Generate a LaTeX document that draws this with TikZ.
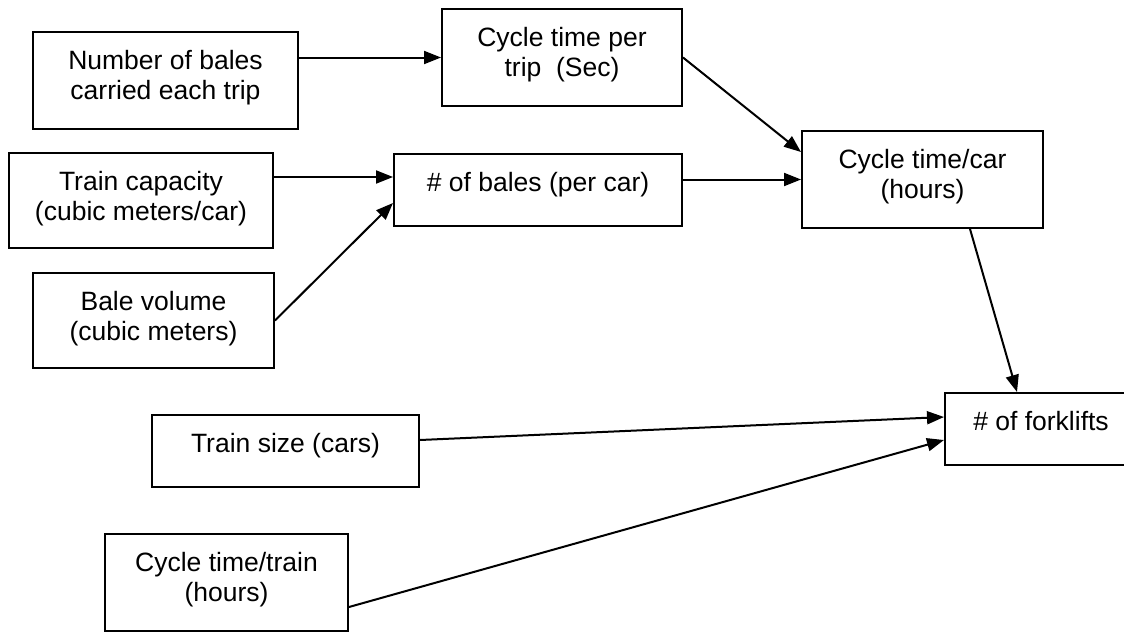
\documentclass[tikz,border=0pt]{standalone}
\usepackage{fontspec}
\setmainfont{Liberation Sans}
\usetikzlibrary{arrows.meta,calc}
\newcommand{\bxt}[3]{\parbox[c][#2][t]{#1}{\centering\rule{0pt}{37pt}#3}}
\begin{document}
\begin{tikzpicture}[x=1pt,y=-1pt,
  box/.style={draw, line width=2pt, inner sep=0pt, anchor=north west, font=\fontsize{26.5}{30}\selectfont},
  arr/.style={line width=2pt, -{Triangle[length=17pt,width=13pt]}}]
\useasboundingbox (0,0) rectangle (1124,632);
\fill[white] (0,0) rectangle (1124,632);
\node[box] (nb)  at (32,31)   {\bxt{265pt}{97pt}{Number of bales\\carried each trip}};
\node[box] (ct)  at (441,8)   {\bxt{240pt}{97pt}{Cycle time per\\trip\ \ (Sec)}};
\node[box] (tc)  at (8,152)   {\bxt{264pt}{95pt}{Train capacity\\(cubic meters/car)}};
\node[box] (nbc) at (393,153) {\bxt{288pt}{72pt}{\# of bales (per car)}};
\node[box] (ctc) at (801,130) {\bxt{241pt}{97pt}{Cycle time/car\\(hours)}};
\node[box] (bv)  at (32,272)  {\bxt{241pt}{95pt}{Bale volume\\(cubic meters)}};
\node[box] (ts)  at (151,414) {\bxt{267pt}{72pt}{Train size (cars)}};
\node[box] (nf)  at (944,392) {\bxt{192pt}{72pt}{\# of forklifts}};
\node[box] (ctt) at (104,533) {\bxt{243pt}{97pt}{Cycle time/train\\(hours)}};
\coordinate (c1) at ($(ctc.north west)+(0,22)$);
\coordinate (c2) at ($(nbc.north west)+(0,24)$);
\coordinate (c3) at ($(nbc.south west)+(0,-24)$);
\coordinate (c4) at ($(ctc.south west)+(169,0)$);
\coordinate (c5) at ($(nf.north west)+(73,0)$);
\coordinate (c6) at ($(ts.east)+(0,-11)$);
\coordinate (c7) at ($(nf.north west)+(0,25)$);
\coordinate (c8) at ($(ctt.south east)+(0,-25)$);
\coordinate (c9) at ($(nf.north west)+(0,48)$);
\draw[arr] (nb.east |- ct.west) -- (ct.west);
\draw[arr] (ct.east) -- (c1);
\draw[arr] (tc.east |- c2) -- (c2);
\draw[arr] (bv.east) -- (c3);
\draw[arr] (nbc.east |- ctc.west) -- (ctc.west);
\draw[arr] (c4) -- (c5);
\draw[arr] (c6) -- (c7);
\draw[arr] (c8) -- (c9);
\end{tikzpicture}
\end{document}
